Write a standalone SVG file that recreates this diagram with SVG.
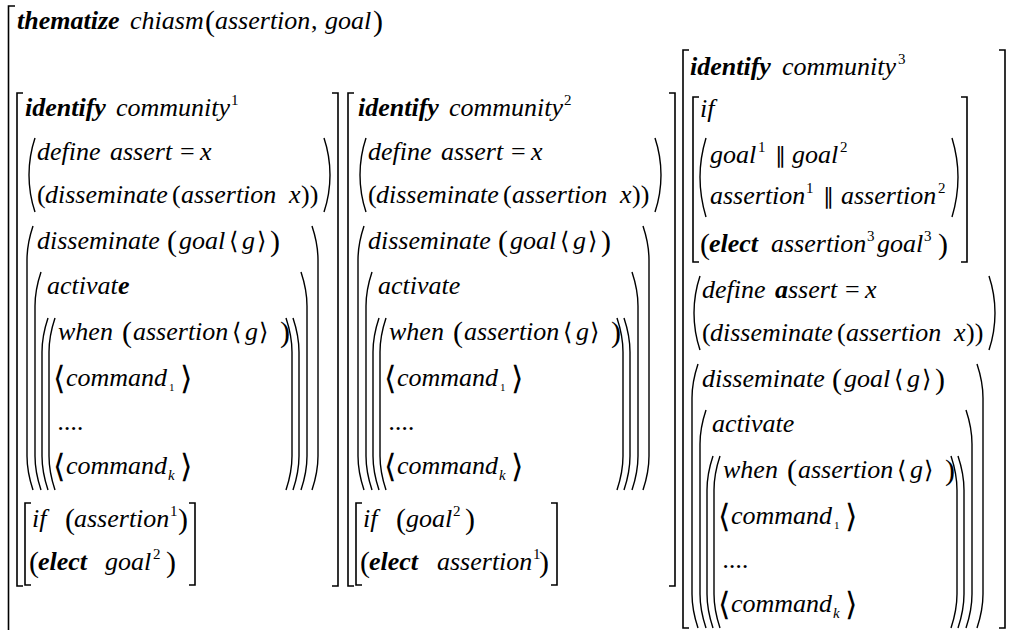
<svg xmlns="http://www.w3.org/2000/svg" width="1010" height="630" viewBox="0 0 1010 630">
<style>
.i{font-size:26px;font-style:italic}
.bi{font-size:26px;font-style:italic;font-weight:bold}
.u{font-size:26px}
.p{font-size:30px}
.a{font-size:24px}
.A{font-size:32px}
.s{font-size:15px}
.d{font-size:11px}
.k{font-size:15px;font-style:italic}
.l{font-size:22px}
.br{fill:none;stroke:#000;stroke-width:1.6}
.pr{fill:none;stroke:#000;stroke-width:1.4}
</style>
<g id="outer">
<path class="br" d="M15,6 H8.5 V630"/>
<text font-family="Liberation Serif" class="bi" x="17" y="29">thematize</text>
<text font-family="Liberation Serif" class="i" x="130" y="29">chiasm</text>
<text font-family="Liberation Serif" class="p" x="205" y="31">(</text>
<text font-family="Liberation Serif" class="i" x="215" y="29">assertion</text>
<text font-family="Liberation Serif" class="u" x="311" y="29">,</text>
<text font-family="Liberation Serif" class="i" x="325" y="29">goal</text>
<text font-family="Liberation Serif" class="p" x="373" y="31">)</text>
</g>

<g id="community1">
<path class="br" d="M23,93 H17 V586 H23"/>
<path class="br" d="M332,93 H338 V586 H332"/>
<path class="pr" d="M35,138 Q29,156 29,175 Q29,194 35,212"/>
<path class="pr" d="M324,138 Q330,156 330,175 Q330,194 324,212"/>
<path class="pr" d="M33,226 Q27,244 27,260 V456 Q27,472 33,490"/>
<path class="pr" d="M312,226 Q318,244 318,260 V456 Q318,472 312,490"/>
<path class="pr" d="M41,272 Q35,290 35,306 V456 Q35,472 41,490"/>
<path class="pr" d="M301,272 Q307,290 307,306 V456 Q307,472 301,490"/>
<path class="pr" d="M48,318 Q42,336 42,352 V456 Q42,472 48,490"/>
<path class="pr" d="M293,318 Q299,336 299,352 V456 Q299,472 293,490"/>
<path class="pr" d="M55,318 Q49,336 49,352 V456 Q49,472 55,490"/>
<path class="pr" d="M286,318 Q292,336 292,352 V456 Q292,472 286,490"/>
<path class="br" d="M31,503 H25 V585 H31"/>
<path class="br" d="M189,503 H195 V585 H189"/>
<text font-family="Liberation Serif" class="bi" x="25" y="116">identify</text>
<text font-family="Liberation Serif" class="i" x="116" y="116">community</text>
<text font-family="Liberation Serif" class="s" x="231" y="105">1</text>
<text font-family="Liberation Serif" class="i" x="37" y="160">define</text>
<text font-family="Liberation Serif" class="i" x="110" y="160">assert</text>
<text font-family="Liberation Serif" class="u" x="180" y="160">=</text>
<text font-family="Liberation Serif" class="i" x="200" y="160">x</text>
<text font-family="Liberation Serif" class="u" x="37" y="203">(</text>
<text font-family="Liberation Serif" class="i" x="45" y="203">disseminate</text>
<text font-family="Liberation Serif" class="u" x="172" y="203">(</text>
<text font-family="Liberation Serif" class="i" x="181" y="203">assertion</text>
<text font-family="Liberation Serif" class="i" x="289" y="203">x</text>
<text font-family="Liberation Serif" class="u" x="301" y="203">))</text>
<text font-family="Liberation Serif" class="i" x="37" y="249">disseminate</text>
<text font-family="Liberation Serif" class="p" x="167" y="251">(</text>
<text font-family="Liberation Serif" class="i" x="179" y="249">goal</text>
<text font-family="Liberation Serif" class="a" x="229" y="249">⟨</text>
<text font-family="Liberation Serif" class="i" x="242" y="249">g</text>
<text font-family="Liberation Serif" class="a" x="257" y="249">⟩</text>
<text font-family="Liberation Serif" class="p" x="270" y="251">)</text>
<text font-family="Liberation Serif" class="i" x="47" y="294">activat</text>
<text font-family="Liberation Serif" class="bi" x="118" y="294">e</text>
<text font-family="Liberation Serif" class="i" x="58" y="340">when</text>
<text font-family="Liberation Serif" class="p" x="122" y="342">(</text>
<text font-family="Liberation Serif" class="i" x="133" y="340">assertion</text>
<text font-family="Liberation Serif" class="a" x="232" y="340">⟨</text>
<text font-family="Liberation Serif" class="i" x="245" y="340">g</text>
<text font-family="Liberation Serif" class="a" x="259" y="340">⟩</text>
<text font-family="Liberation Serif" class="p" x="280" y="342">)</text>
<text font-family="Liberation Serif" class="A" x="53" y="389">⟨</text>
<text font-family="Liberation Serif" class="i" x="66" y="386">command</text>
<text font-family="Liberation Serif" class="d" x="169" y="391">1</text>
<text font-family="Liberation Serif" class="A" x="180" y="389">⟩</text>
<text font-family="Liberation Serif" class="i" x="58" y="430">....</text>
<text font-family="Liberation Serif" class="A" x="53" y="477">⟨</text>
<text font-family="Liberation Serif" class="i" x="66" y="474">command</text>
<text font-family="Liberation Serif" class="k" x="168" y="480">k</text>
<text font-family="Liberation Serif" class="A" x="180" y="477">⟩</text>
<text font-family="Liberation Serif" class="i" x="32" y="527">if</text>
<text font-family="Liberation Serif" class="p" x="65" y="529">(</text>
<text font-family="Liberation Serif" class="i" x="74" y="527">assertion</text>
<text font-family="Liberation Serif" class="s" x="170" y="516">1</text>
<text font-family="Liberation Serif" class="p" x="178" y="529">)</text>
<text font-family="Liberation Serif" class="p" x="29" y="572">(</text>
<text font-family="Liberation Serif" class="bi" x="38" y="570">elect</text>
<text font-family="Liberation Serif" class="i" x="105" y="570">goal</text>
<text font-family="Liberation Serif" class="s" x="153" y="559">2</text>
<text font-family="Liberation Serif" class="p" x="166" y="572">)</text>
</g>

<g id="community2" transform="translate(331,0)">
<path class="br" d="M23,93 H17 V586 H23"/>
<path class="br" d="M338,93 H344 V586 H338"/>
<path class="pr" d="M35,138 Q29,156 29,175 Q29,194 35,212"/>
<path class="pr" d="M324,138 Q330,156 330,175 Q330,194 324,212"/>
<path class="pr" d="M33,226 Q27,244 27,260 V456 Q27,472 33,490"/>
<path class="pr" d="M312,226 Q318,244 318,260 V456 Q318,472 312,490"/>
<path class="pr" d="M41,272 Q35,290 35,306 V456 Q35,472 41,490"/>
<path class="pr" d="M301,272 Q307,290 307,306 V456 Q307,472 301,490"/>
<path class="pr" d="M48,318 Q42,336 42,352 V456 Q42,472 48,490"/>
<path class="pr" d="M293,318 Q299,336 299,352 V456 Q299,472 293,490"/>
<path class="pr" d="M55,318 Q49,336 49,352 V456 Q49,472 55,490"/>
<path class="pr" d="M286,318 Q292,336 292,352 V456 Q292,472 286,490"/>
<path class="br" d="M31,503 H25 V585 H31"/>
<path class="br" d="M220,503 H226 V585 H220"/>
<text font-family="Liberation Serif" class="bi" x="27" y="116">identify</text>
<text font-family="Liberation Serif" class="i" x="118" y="116">community</text>
<text font-family="Liberation Serif" class="s" x="233" y="105">2</text>
<text font-family="Liberation Serif" class="i" x="37" y="160">define</text>
<text font-family="Liberation Serif" class="i" x="110" y="160">assert</text>
<text font-family="Liberation Serif" class="u" x="180" y="160">=</text>
<text font-family="Liberation Serif" class="i" x="200" y="160">x</text>
<text font-family="Liberation Serif" class="u" x="37" y="203">(</text>
<text font-family="Liberation Serif" class="i" x="45" y="203">disseminate</text>
<text font-family="Liberation Serif" class="u" x="172" y="203">(</text>
<text font-family="Liberation Serif" class="i" x="181" y="203">assertion</text>
<text font-family="Liberation Serif" class="i" x="289" y="203">x</text>
<text font-family="Liberation Serif" class="u" x="301" y="203">))</text>
<text font-family="Liberation Serif" class="i" x="37" y="249">disseminate</text>
<text font-family="Liberation Serif" class="p" x="167" y="251">(</text>
<text font-family="Liberation Serif" class="i" x="179" y="249">goal</text>
<text font-family="Liberation Serif" class="a" x="229" y="249">⟨</text>
<text font-family="Liberation Serif" class="i" x="242" y="249">g</text>
<text font-family="Liberation Serif" class="a" x="257" y="249">⟩</text>
<text font-family="Liberation Serif" class="p" x="270" y="251">)</text>
<text font-family="Liberation Serif" class="i" x="47" y="294">activate</text>
<text font-family="Liberation Serif" class="i" x="58" y="340">when</text>
<text font-family="Liberation Serif" class="p" x="122" y="342">(</text>
<text font-family="Liberation Serif" class="i" x="133" y="340">assertion</text>
<text font-family="Liberation Serif" class="a" x="232" y="340">⟨</text>
<text font-family="Liberation Serif" class="i" x="245" y="340">g</text>
<text font-family="Liberation Serif" class="a" x="259" y="340">⟩</text>
<text font-family="Liberation Serif" class="p" x="280" y="342">)</text>
<text font-family="Liberation Serif" class="A" x="53" y="389">⟨</text>
<text font-family="Liberation Serif" class="i" x="66" y="386">command</text>
<text font-family="Liberation Serif" class="d" x="169" y="391">1</text>
<text font-family="Liberation Serif" class="A" x="180" y="389">⟩</text>
<text font-family="Liberation Serif" class="i" x="58" y="430">....</text>
<text font-family="Liberation Serif" class="A" x="53" y="477">⟨</text>
<text font-family="Liberation Serif" class="i" x="66" y="474">command</text>
<text font-family="Liberation Serif" class="k" x="168" y="480">k</text>
<text font-family="Liberation Serif" class="A" x="180" y="477">⟩</text>
<text font-family="Liberation Serif" class="i" x="32" y="527">if</text>
<text font-family="Liberation Serif" class="p" x="65" y="529">(</text>
<text font-family="Liberation Serif" class="i" x="75" y="527">goal</text>
<text font-family="Liberation Serif" class="s" x="122" y="516">2</text>
<text font-family="Liberation Serif" class="p" x="134" y="529">)</text>
<text font-family="Liberation Serif" class="p" x="29" y="572">(</text>
<text font-family="Liberation Serif" class="bi" x="38" y="570">elect</text>
<text font-family="Liberation Serif" class="i" x="106" y="570">assertion</text>
<text font-family="Liberation Serif" class="s" x="202" y="559">1</text>
<text font-family="Liberation Serif" class="p" x="208" y="572">)</text>
</g>

<g id="community3">
<path class="br" d="M689,50 H683 V628 H689"/>
<path class="br" d="M999,50 H1005 V628 H999"/>
<path class="br" d="M699,97 H693 V262 H699"/>
<path class="br" d="M961,97 H967 V262 H961"/>
<path class="pr" d="M706,138 Q700,158 700,177 Q700,197 706,217"/>
<path class="pr" d="M952,138 Q958,158 958,177 Q958,197 952,217"/>
<text font-family="Liberation Serif" class="bi" x="690" y="75">identify</text>
<text font-family="Liberation Serif" class="i" x="782" y="75">community</text>
<text font-family="Liberation Serif" class="s" x="898" y="64">3</text>
<text font-family="Liberation Serif" class="i" x="700" y="117">if</text>
<text font-family="Liberation Serif" class="i" x="710" y="163">goal</text>
<text font-family="Liberation Serif" class="s" x="758" y="152">1</text>
<text font-family="Liberation Serif" class="l" x="775" y="163">∥</text>
<text font-family="Liberation Serif" class="i" x="792" y="163">goal</text>
<text font-family="Liberation Serif" class="s" x="840" y="152">2</text>
<text font-family="Liberation Serif" class="i" x="710" y="204">assertion</text>
<text font-family="Liberation Serif" class="s" x="806" y="193">1</text>
<text font-family="Liberation Serif" class="l" x="823" y="204">∥</text>
<text font-family="Liberation Serif" class="i" x="841" y="204">assertion</text>
<text font-family="Liberation Serif" class="s" x="938" y="193">2</text>
<text font-family="Liberation Serif" class="p" x="700" y="254">(</text>
<text font-family="Liberation Serif" class="bi" x="709" y="252">elect</text>
<text font-family="Liberation Serif" class="i" x="771" y="252">assertion</text>
<text font-family="Liberation Serif" class="s" x="867" y="241">3</text>
<text font-family="Liberation Serif" class="i" x="877" y="252">goal</text>
<text font-family="Liberation Serif" class="s" x="924" y="241">3</text>
<text font-family="Liberation Serif" class="p" x="938" y="254">)</text>
<g transform="translate(665,138)">
<path class="pr" d="M35,138 Q29,156 29,175 Q29,194 35,212"/>
<path class="pr" d="M324,138 Q330,156 330,175 Q330,194 324,212"/>
<path class="pr" d="M33,226 Q27,244 27,260 V456 Q27,472 33,490"/>
<path class="pr" d="M312,226 Q318,244 318,260 V456 Q318,472 312,490"/>
<path class="pr" d="M41,272 Q35,290 35,306 V456 Q35,472 41,490"/>
<path class="pr" d="M301,272 Q307,290 307,306 V456 Q307,472 301,490"/>
<path class="pr" d="M48,318 Q42,336 42,352 V456 Q42,472 48,490"/>
<path class="pr" d="M293,318 Q299,336 299,352 V456 Q299,472 293,490"/>
<path class="pr" d="M55,318 Q49,336 49,352 V456 Q49,472 55,490"/>
<path class="pr" d="M286,318 Q292,336 292,352 V456 Q292,472 286,490"/>
<text font-family="Liberation Serif" class="i" x="37" y="160">define</text>
<text font-family="Liberation Serif" class="bi" x="110" y="160">a</text>
<text font-family="Liberation Serif" class="i" x="123" y="160">ssert</text>
<text font-family="Liberation Serif" class="u" x="180" y="160">=</text>
<text font-family="Liberation Serif" class="i" x="200" y="160">x</text>
<text font-family="Liberation Serif" class="u" x="37" y="203">(</text>
<text font-family="Liberation Serif" class="i" x="45" y="203">disseminate</text>
<text font-family="Liberation Serif" class="u" x="172" y="203">(</text>
<text font-family="Liberation Serif" class="i" x="181" y="203">assertion</text>
<text font-family="Liberation Serif" class="i" x="289" y="203">x</text>
<text font-family="Liberation Serif" class="u" x="301" y="203">))</text>
<text font-family="Liberation Serif" class="i" x="37" y="249">disseminate</text>
<text font-family="Liberation Serif" class="p" x="167" y="251">(</text>
<text font-family="Liberation Serif" class="i" x="179" y="249">goal</text>
<text font-family="Liberation Serif" class="a" x="229" y="249">⟨</text>
<text font-family="Liberation Serif" class="i" x="242" y="249">g</text>
<text font-family="Liberation Serif" class="a" x="257" y="249">⟩</text>
<text font-family="Liberation Serif" class="p" x="270" y="251">)</text>
<text font-family="Liberation Serif" class="i" x="47" y="294">activate</text>
<text font-family="Liberation Serif" class="i" x="58" y="340">when</text>
<text font-family="Liberation Serif" class="p" x="122" y="342">(</text>
<text font-family="Liberation Serif" class="i" x="133" y="340">assertion</text>
<text font-family="Liberation Serif" class="a" x="232" y="340">⟨</text>
<text font-family="Liberation Serif" class="i" x="245" y="340">g</text>
<text font-family="Liberation Serif" class="a" x="259" y="340">⟩</text>
<text font-family="Liberation Serif" class="p" x="280" y="342">)</text>
<text font-family="Liberation Serif" class="A" x="53" y="389">⟨</text>
<text font-family="Liberation Serif" class="i" x="66" y="386">command</text>
<text font-family="Liberation Serif" class="d" x="169" y="391">1</text>
<text font-family="Liberation Serif" class="A" x="180" y="389">⟩</text>
<text font-family="Liberation Serif" class="i" x="58" y="430">....</text>
<text font-family="Liberation Serif" class="A" x="53" y="477">⟨</text>
<text font-family="Liberation Serif" class="i" x="66" y="474">command</text>
<text font-family="Liberation Serif" class="k" x="168" y="480">k</text>
<text font-family="Liberation Serif" class="A" x="180" y="477">⟩</text>
</g>
</g>
</svg>
